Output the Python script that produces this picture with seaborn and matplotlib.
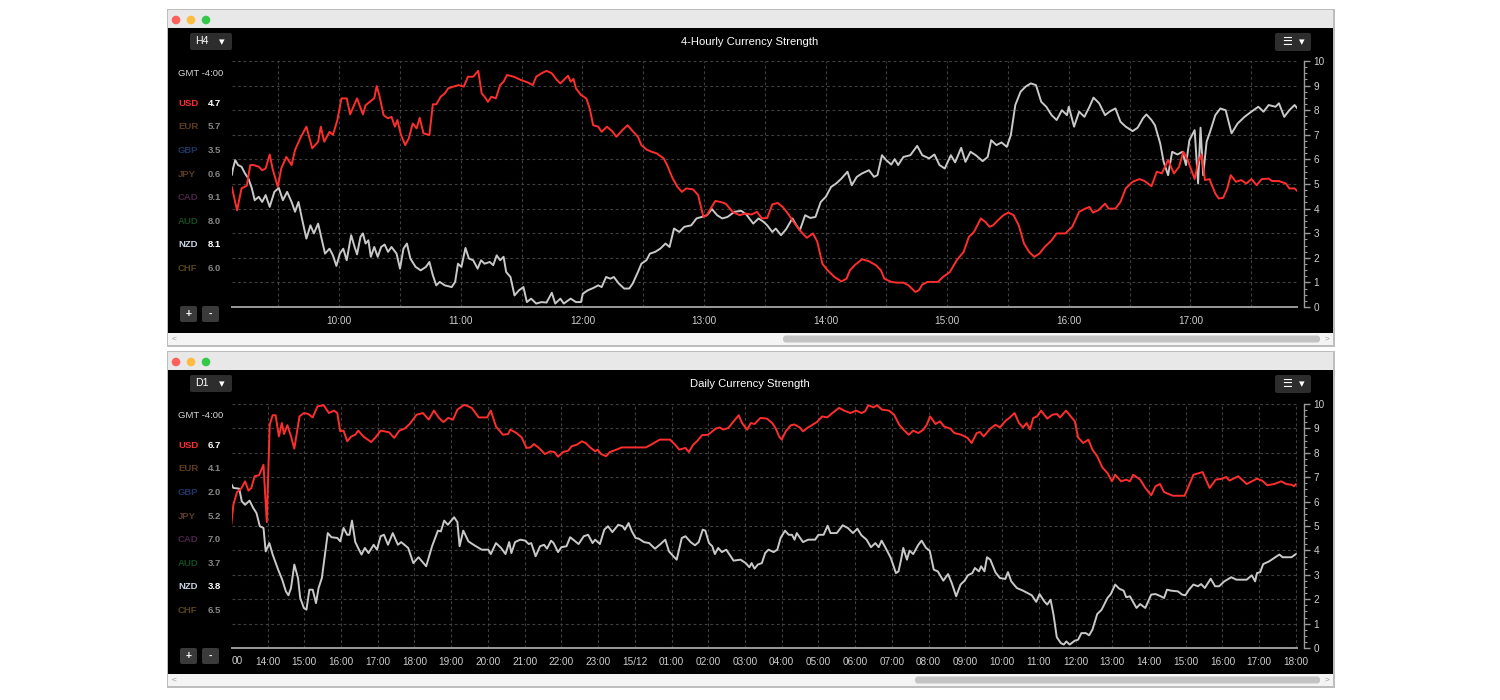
import matplotlib
matplotlib.use("Agg")
import matplotlib.pyplot as plt
import seaborn as sns
import numpy as np
import pandas as pd
from matplotlib.patches import Rectangle, FancyBboxPatch, Circle

# ---------------- data ----------------
CURRENCIES = ["USD", "EUR", "GBP", "JPY", "CAD", "AUD", "NZD", "CHF"]
TOP_STRENGTH = [4.7, 5.7, 3.5, 0.6, 9.1, 8.0, 8.1, 6.0]
BOT_STRENGTH = [6.7, 4.1, 2.0, 5.2, 7.0, 3.7, 3.8, 6.5]

# 4-hourly panel: (minutes after 09:00, strength)
TOP_USD = [(7.0,4.88),(9.6,3.93),(11.8,4.82),(14.4,4.93),(16.1,5.77),(17.8,5.77),(20.3,5.70),(22.0,5.56),(23.7,5.63),
 (25.7,6.20),(27.1,5.63),(29.7,4.88),(31.4,5.63),(33.9,6.10),(36.5,5.77),(38.2,6.38),(40.7,6.85),(43.8,7.33),(46.7,6.45),
 (49.6,6.72),(50.9,7.33),(52.6,6.72),(55.2,7.12),(56.9,7.00),(59.1,7.60),(61.1,8.48),(63.7,8.48),(65.4,7.83),(68.8,8.48),
 (71.7,7.83),(73.0,8.20),(76.1,8.41),(77.3,8.48),(78.5,8.98),(79.8,8.60),(81.9,7.80),(84.1,7.67),(85.8,7.73),(87.5,7.33),
 (88.7,7.60),(90.5,6.99),(92.6,6.58),(94.3,6.85),(96.3,7.46),(98.2,7.26),(99.7,7.69),(101.6,7.06),(104.5,6.99),(106.2,8.24),
 (107.9,8.24),(110.1,8.55),(112.1,8.68),(113.8,8.89),(116.4,8.96),(118.9,9.02),(121.5,8.96),(123.5,9.36),(126.1,9.36),
 (128.6,9.60),(130.3,8.68),(131.7,8.55),(133.4,8.34),(135.1,8.55),(137.3,8.48),(139.4,9.02),(141.1,9.16),(142.8,9.43),
 (146.2,9.36),(149.6,9.23),(153.0,9.13),(155.5,9.02),(157.2,9.36),(159.8,9.50),(162.3,9.60),(164.9,9.50),(167.4,9.23),
 (169.1,9.09),(170.8,9.23),(172.9,9.40),(174.2,9.16),(175.6,9.27),(176.8,8.89),(179.3,8.62),(181.9,8.48),(183.6,8.07),
 (185.3,7.39),(187.8,7.33),(189.5,7.12),(192.1,7.33),(194.6,7.15),(196.8,6.92),(199.7,7.19),(202.3,7.39),(204.8,7.15),
 (207.4,6.92),(209.1,6.58),(211.6,6.40),(214.2,6.31),(216.7,6.24),(220.1,6.04),(221.8,5.77),(224.4,5.25),(226.9,4.88),
 (229.1,4.68),(231.2,4.82),(234.6,4.78),(237.1,4.55),(239.7,3.66),(241.4,3.73),(243.1,3.98),(245.6,4.31),(248.2,4.27),
 (250.7,4.20),(254.1,3.87),(257.6,3.73),(260.1,3.80),(263.5,3.76),(266.1,3.87),(268.6,3.60),(271.2,3.62),(273.7,4.17),
 (276.3,4.23),(278.8,4.07),(281.4,3.80),(283.9,3.49),(287.3,3.12),(290.7,2.81),(293.8,2.99),(295.9,2.65),(298.4,1.76),
 (301.0,1.49),(304.4,1.22),(307.8,1.04),(310.3,1.15),(312.0,1.49),(314.6,1.72),(318.0,1.94),(321.4,1.86),(324.8,1.70),
 (327.3,1.49),(329.0,1.15),(332.4,1.02),(335.0,0.99),(338.4,0.99),(340.9,0.88),(344.3,0.61),(346.0,0.68),(347.7,0.91),
 (350.3,1.02),(355.4,1.02),(357.9,1.22),(361.3,1.42),(364.7,1.90),(368.1,2.24),(370.7,2.85),(373.2,3.05),(376.6,3.60),
 (378.8,3.46),(380.9,3.26),(382.6,3.32),(385.1,3.53),(387.7,3.73),(390.2,3.84),(392.8,3.73),(395.3,3.32),(397.9,2.58),
 (400.4,2.24),(403.0,2.04),(405.5,2.17),(408.1,2.44),(411.5,2.71),(414.0,2.99),(418.3,2.99),(421.7,3.26),(425.1,3.87),
 (427.7,3.98),(430.2,4.07),(431.9,3.84),(434.5,3.93),(437.9,4.20),(439.6,4.00),(443.0,4.00),(445.5,4.27),(448.1,4.82),
 (451.5,5.09),(454.9,5.20),(457.4,5.12),(460.8,4.91),(463.4,5.50),(465.9,5.43),(469.0,5.97),(471.9,5.43),(474.4,5.70),
 (476.5,6.31),(478.7,5.97),(482.1,5.20),(483.8,5.90),(485.5,6.20),(487.2,5.16),(489.4,5.20),(492.3,4.61),(494.0,4.41),
 (496.2,4.44),(498.2,4.82),(499.9,5.36),(502.5,5.09),(505.0,5.16),(507.6,5.02),(510.1,5.20),(512.7,4.95),(515.2,5.20),
 (518.6,5.22),(520.3,5.12),(523.7,5.12),(527.1,5.02),(528.8,4.82),(531.4,4.82),(532.8,4.71)]

TOP_NZD = [(7.0,5.36),(7.6,5.63),(8.7,5.97),(10.1,5.77),(11.8,5.70),(13.5,5.43),(15.2,5.22),(16.9,4.82),(18.3,4.34),
 (20.3,4.48),(22.0,4.27),(23.7,4.55),(25.7,4.07),(28.0,4.68),(30.2,4.84),(32.2,4.34),(34.3,4.68),(36.5,4.27),(38.2,3.87),
 (39.9,4.27),(41.6,3.60),(43.8,2.78),(45.8,3.32),(47.5,2.99),(49.6,3.39),(51.3,2.78),(53.0,2.17),(55.2,2.37),(56.9,2.10),
 (58.6,1.67),(60.3,2.17),(62.0,2.37),(63.7,1.90),(65.9,2.92),(67.6,2.44),(68.8,2.14),(70.5,2.85),(71.7,2.99),(73.0,2.58),
 (74.4,2.71),(75.6,2.04),(77.3,2.44),(79.0,2.04),(80.7,2.44),(82.4,2.54),(84.1,2.24),(85.8,2.44),(88.3,2.17),(90.0,1.56),
 (91.7,2.37),(93.4,2.58),(95.1,1.97),(97.7,1.63),(100.2,1.49),(102.8,1.63),(104.5,1.83),(106.2,1.29),(107.9,0.88),
 (109.6,1.02),(112.1,0.88),(115.5,0.81),(117.2,1.02),(118.6,1.76),(120.3,1.63),(122.3,2.40),(124.0,1.97),(126.1,1.90),
 (128.3,1.56),(130.0,1.90),(131.7,1.76),(134.3,1.83),(136.0,1.70),(137.7,2.10),(139.4,1.90),(141.1,2.04),(142.4,1.42),
 (144.5,1.22),(146.5,0.47),(148.7,0.68),(150.9,0.81),(152.6,0.20),(154.7,0.34),(157.2,0.14),(159.8,0.20),(162.3,0.18),
 (164.9,0.58),(166.6,0.14),(169.1,0.34),(170.8,0.14),(174.2,0.34),(176.8,0.20),(179.3,0.20),(180.2,0.54),(182.7,0.68),
 (185.3,0.77),(187.8,0.88),(189.5,0.81),(191.7,1.22),(193.8,1.15),(195.5,1.22),(198.0,0.95),(200.6,0.75),(203.1,0.75),
 (204.8,0.95),(207.4,1.42),(209.1,1.76),(211.6,1.90),(213.3,2.17),(215.9,2.24),(218.4,2.37),(221.0,2.58),(223.0,2.44),
 (225.2,3.19),(227.8,3.05),(230.3,3.26),(233.7,3.32),(236.3,3.60),(238.8,3.66),(241.4,3.73),(243.9,3.98),(246.5,3.73),
 (249.0,3.60),(251.6,3.66),(255.0,3.87),(258.4,3.91),(260.9,3.76),(264.3,3.39),(266.9,3.60),(269.4,3.46),(271.2,3.32),
 (273.7,3.05),(275.4,3.19),(278.0,2.92),(280.5,3.16),(283.6,3.60),(285.6,3.32),(287.3,3.12),(289.9,3.73),(292.4,3.62),
 (295.0,3.66),(297.6,4.27),(300.1,4.48),(302.7,4.88),(305.2,5.02),(307.8,5.22),(310.8,5.50),(312.9,4.95),(315.4,5.29),
 (318.0,5.43),(321.4,5.56),(323.9,5.29),(325.6,5.36),(327.8,6.17),(329.9,5.97),(332.4,5.79),(334.1,6.01),(335.8,5.77),
 (338.4,6.10),(341.8,6.17),(345.2,6.55),(347.7,6.17),(351.1,6.04),(353.7,6.20),(356.2,5.77),(358.8,5.63),(361.8,6.17),
 (363.9,5.88),(366.9,6.47),(369.0,5.90),(371.5,6.31),(374.1,6.17),(377.5,5.93),(380.0,6.10),(381.7,6.78),(384.3,6.58),
 (386.8,6.69),(389.4,6.51),(391.4,6.99),(393.6,8.21),(396.2,8.75),(398.7,8.96),(401.3,9.09),(403.8,9.02),(406.4,8.34),
 (408.9,8.14),(411.5,7.80),(414.0,7.60),(416.6,8.00),(419.1,7.80),(420.0,8.14),(422.6,7.33),(425.1,7.94),(427.7,7.73),
 (430.2,8.14),(432.2,8.51),(435.0,8.28),(437.9,7.80),(440.4,7.96),(443.0,8.07),(445.5,7.53),(448.1,7.33),(451.5,7.15),
 (454.0,7.29),(456.6,7.67),(458.3,7.83),(460.8,7.60),(462.5,7.39),(465.1,6.65),(466.8,5.90),(469.0,5.36),(471.0,6.31),
 (473.6,6.20),(476.1,6.31),(477.8,5.77),(479.5,6.78),(482.1,7.19),(483.8,5.02),(485.0,7.29),(486.3,5.36),(488.0,6.72),
 (489.7,7.12),(492.3,7.80),(494.8,8.07),(497.4,8.00),(500.3,7.06),(503.3,7.46),(506.7,7.73),(510.1,7.94),(513.5,8.14),
 (516.1,7.94),(518.6,8.21),(522.0,8.14),(523.7,8.28),(526.3,7.73),(528.8,8.00),(531.4,8.21),(532.8,8.07)]

# daily panel: (hours after 13:00 on 14/12, strength)
BOT_USD = [(0.015,5.08),(0.07,5.87),(0.17,6.39),(0.28,6.53),(0.39,6.83),(0.48,6.45),(0.56,6.56),(0.65,7.04),(0.77,7.08),
 (0.89,7.51),(0.98,5.16),(1.06,9.15),(1.14,9.54),(1.22,9.54),(1.31,8.67),(1.39,9.22),(1.45,8.77),(1.54,9.13),(1.64,8.67),
 (1.73,8.17),(1.87,9.49),(1.99,9.63),(2.11,9.59),(2.23,9.45),(2.36,9.90),(2.53,9.95),(2.67,9.63),(2.81,9.73),(2.90,9.63),
 (2.98,8.88),(3.07,8.91),(3.17,8.47),(3.28,8.67),(3.39,8.74),(3.47,8.91),(3.61,8.67),(3.82,8.44),(3.94,8.63),(4.08,8.91),
 (4.31,8.84),(4.45,8.61),(4.59,8.91),(4.73,8.99),(4.87,9.18),(5.06,9.56),(5.23,9.63),(5.39,9.36),(5.53,9.73),(5.67,9.43),
 (5.79,9.26),(5.92,9.43),(6.05,9.36),(6.17,9.77),(6.36,9.97),(6.56,9.84),(6.75,9.45),(6.98,9.45),(7.08,9.73),(7.22,9.08),
 (7.41,8.74),(7.55,8.77),(7.61,8.95),(7.78,8.81),(7.92,8.63),(8.05,8.20),(8.16,8.22),(8.25,8.36),(8.39,8.20),(8.55,7.95),
 (8.70,8.06),(8.81,8.03),(8.91,7.84),(9.05,8.03),(9.19,8.09),(9.28,8.27),(9.42,8.33),(9.56,8.47),(9.66,8.40),(9.80,8.20),
 (9.92,8.06),(9.99,8.13),(10.08,7.95),(10.22,7.86),(10.32,8.03),(10.50,8.13),(10.64,8.22),(10.88,8.22),(11.30,8.22),
 (11.44,8.33),(11.68,8.54),(11.96,8.54),(12.10,8.33),(12.21,8.13),(12.38,8.20),(12.47,8.03),(12.59,8.33),(12.71,8.50),
 (12.83,8.72),(12.99,8.74),(13.08,8.84),(13.20,8.99),(13.31,9.04),(13.41,8.95),(13.55,9.02),(13.69,9.29),(13.83,9.54),
 (13.92,9.22),(14.06,8.95),(14.16,9.22),(14.26,9.18),(14.42,9.43),(14.60,9.40),(14.74,9.22),(14.83,9.02),(14.93,8.67),
 (15.00,8.54),(15.11,8.88),(15.25,9.13),(15.35,9.16),(15.49,9.04),(15.58,8.88),(15.72,9.04),(15.96,9.26),(16.10,9.49),
 (16.24,9.45),(16.38,9.63),(16.56,9.84),(16.70,9.73),(16.87,9.63),(17.03,9.73),(17.17,9.63),(17.27,9.70),(17.36,9.95),
 (17.50,9.86),(17.59,9.95),(17.73,9.77),(17.92,9.73),(18.06,9.56),(18.20,9.15),(18.34,8.91),(18.46,8.74),(18.58,8.91),
 (18.72,8.81),(18.86,8.95),(18.95,9.15),(19.04,9.49),(19.19,9.18),(19.31,9.29),(19.42,9.08),(19.59,8.99),(19.70,8.81),
 (19.89,8.74),(20.06,8.61),(20.17,8.40),(20.31,8.81),(20.40,8.85),(20.50,8.67),(20.68,8.99),(20.82,9.15),(20.94,9.04),
 (21.10,9.32),(21.20,9.43),(21.34,9.63),(21.46,9.22),(21.57,9.04),(21.67,9.22),(21.76,8.95),(21.85,9.43),(21.95,9.49),
 (22.06,9.73),(22.23,9.40),(22.37,9.56),(22.49,9.59),(22.58,9.45),(22.74,9.73),(22.87,9.49),(22.98,9.29),(23.07,8.63),
 (23.21,8.40),(23.35,8.54),(23.46,8.13),(23.59,7.86),(23.73,7.40),(23.87,7.17),(23.99,6.83),(24.08,7.10),(24.24,6.83),
 (24.38,6.90),(24.48,6.83),(24.57,7.10),(24.76,6.90),(24.90,6.56),(25.06,6.26),(25.18,6.63),(25.30,6.72),(25.41,6.39),
 (25.65,6.24),(25.97,6.24),(26.21,7.10),(26.46,7.21),(26.65,6.56),(26.82,6.90),(27.00,6.94),(27.10,7.01),(27.19,6.86),
 (27.43,7.04),(27.66,6.72),(27.80,6.83),(27.94,6.94),(28.08,6.86),(28.22,6.67),(28.41,6.72),(28.60,6.83),(28.74,6.72),
 (28.88,6.69),(28.95,6.63),(29.0,6.72)]

BOT_NZD = [(0.015,6.72),(0.07,6.56),(0.23,6.53),(0.30,6.01),(0.39,5.87),(0.51,6.04),(0.61,5.74),(0.70,5.53),(0.79,4.99),
 (0.89,4.92),(0.95,3.96),(1.05,4.30),(1.14,3.83),(1.29,3.21),(1.40,2.80),(1.50,2.32),(1.57,2.16),(1.64,2.46),(1.73,3.42),
 (1.83,2.87),(1.89,2.05),(1.99,1.64),(2.06,1.57),(2.14,2.39),(2.23,2.39),(2.32,1.84),(2.39,2.46),(2.48,2.87),(2.55,3.69),
 (2.64,4.71),(2.74,4.54),(2.90,4.51),(2.98,4.37),(3.07,4.92),(3.17,4.64),(3.23,4.64),(3.30,5.22),(3.39,4.34),(3.49,4.03),
 (3.56,3.83),(3.65,4.10),(3.75,3.89),(3.89,4.23),(3.98,4.03),(4.08,4.58),(4.17,4.64),(4.28,4.23),(4.41,4.71),(4.55,4.23),
 (4.64,4.34),(4.83,4.10),(4.97,3.48),(5.11,3.72),(5.32,3.35),(5.48,4.17),(5.64,4.81),(5.72,4.78),(5.81,5.22),(5.91,5.05),
 (6.08,5.36),(6.17,5.16),(6.23,4.17),(6.33,4.81),(6.47,4.37),(6.61,4.23),(6.83,4.03),(7.01,4.03),(7.08,3.85),(7.22,4.30),
 (7.36,4.10),(7.48,3.85),(7.58,4.34),(7.64,3.89),(7.74,4.34),(7.88,4.44),(8.02,4.40),(8.11,4.26),(8.18,4.30),(8.30,3.76),
 (8.42,4.17),(8.53,4.23),(8.61,4.07),(8.72,4.40),(8.79,4.30),(8.91,3.93),(9.00,4.13),(9.14,4.17),(9.24,4.54),(9.38,4.37),
 (9.47,4.26),(9.61,4.58),(9.73,4.64),(9.85,4.30),(9.92,4.44),(10.05,4.26),(10.17,4.85),(10.27,4.99),(10.39,4.75),
 (10.55,5.05),(10.67,4.99),(10.73,4.85),(10.83,5.12),(10.92,4.78),(11.02,4.51),(11.11,4.48),(11.25,4.34),(11.39,4.30),
 (11.55,4.07),(11.70,4.26),(11.83,4.44),(11.93,3.96),(12.05,3.76),(12.14,3.62),(12.28,4.51),(12.38,4.58),(12.52,4.34),
 (12.64,4.21),(12.74,4.34),(12.85,4.85),(12.92,4.81),(13.02,4.30),(13.11,4.17),(13.18,3.85),(13.27,4.10),(13.37,3.93),
 (13.49,4.03),(13.69,3.58),(13.88,3.62),(14.02,3.48),(14.12,3.31),(14.18,3.48),(14.26,3.25),(14.35,3.42),(14.46,3.48),
 (14.55,3.89),(14.64,4.03),(14.78,3.93),(14.88,4.03),(14.97,4.51),(15.09,4.81),(15.19,4.64),(15.28,4.64),(15.35,4.44),
 (15.41,4.71),(15.58,4.34),(15.72,4.44),(15.91,4.44),(16.00,4.64),(16.14,4.64),(16.25,5.01),(16.33,4.71),(16.50,4.71),
 (16.66,5.03),(16.80,4.92),(16.94,4.71),(17.06,4.89),(17.17,4.62),(17.31,4.44),(17.43,4.13),(17.55,4.30),(17.64,4.13),
 (17.72,4.40),(17.83,4.10),(17.97,3.69),(18.11,3.07),(18.18,3.14),(18.25,3.62),(18.31,4.10),(18.41,3.62),(18.48,3.99),
 (18.58,3.85),(18.72,4.23),(18.81,4.40),(18.93,4.10),(19.03,3.99),(19.14,3.21),(19.25,3.14),(19.40,2.76),(19.53,3.03),
 (19.63,2.66),(19.75,2.12),(19.87,2.60),(19.98,2.76),(20.07,2.98),(20.19,3.07),(20.26,3.28),(20.37,3.14),(20.43,3.35),
 (20.52,3.14),(20.59,3.72),(20.68,3.62),(20.82,3.10),(20.94,2.87),(21.09,2.83),(21.16,3.11),(21.25,2.73),(21.40,2.46),
 (21.57,2.35),(21.81,2.16),(21.93,1.89),(22.02,2.21),(22.15,1.91),(22.23,1.78),(22.32,1.98),(22.40,1.37),(22.49,0.44),
 (22.60,0.20),(22.68,0.14),(22.75,0.27),(22.84,0.14),(22.98,0.30),(23.07,0.34),(23.16,0.61),(23.28,0.61),(23.37,0.52),
 (23.46,0.75),(23.59,1.39),(23.71,1.57),(23.87,2.05),(23.96,2.21),(24.08,2.60),(24.19,2.43),(24.31,2.35),(24.38,2.08),
 (24.48,2.12),(24.66,1.64),(24.76,1.80),(24.90,1.64),(25.06,2.19),(25.18,2.21),(25.32,2.12),(25.41,2.05),(25.49,2.39),
 (25.60,2.35),(25.79,2.32),(25.90,2.19),(25.99,2.16),(26.09,2.39),(26.21,2.60),(26.33,2.53),(26.42,2.62),(26.52,2.46),
 (26.68,2.84),(26.80,2.53),(26.91,2.53),(27.05,2.73),(27.24,2.90),(27.38,2.80),(27.66,2.80),(27.80,2.98),(27.89,2.73),
 (27.94,3.07),(28.03,3.11),(28.11,3.44),(28.27,3.55),(28.41,3.69),(28.55,3.83),(28.64,3.72),(28.88,3.72),(29.0,3.85)]

TOP_HOUR_LABELS = ["10:00", "11:00", "12:00", "13:00", "14:00", "15:00", "16:00", "17:00"]
BOT_HOUR_LABELS = ["14:00", "15:00", "16:00", "17:00", "18:00", "19:00", "20:00", "21:00", "22:00", "23:00",
                   "15/12", "01:00", "02:00", "03:00", "04:00", "05:00", "06:00", "07:00", "08:00", "09:00",
                   "10:00", "11:00", "12:00", "13:00", "14:00", "15:00", "16:00", "17:00", "18:00"]

# ---------------- style ----------------
sns.set_theme(style="dark")
plt.rcParams['font.family'] = ['Liberation Sans', 'DejaVu Sans']

RED = "#ff2e2e"
WHITE_LINE = "#c9c9c9"
NAME_COLORS = ["#ff2e2e", "#5e3d1f", "#1f3665", "#5c3c22", "#4c2449", "#15491f", "#c9d2e3", "#574619"]
ACTIVE = {"USD", "NZD"}
AXIS_COL = "#9a9a9a"
TXT_COL = "#cfcfcf"
GRID_COL = "#404040"

fig = plt.figure(figsize=(15, 7), dpi=100, facecolor="white")
bg = fig.add_axes([0, 0, 1, 1])
bg.set_xlim(0, 1500)
bg.set_ylim(700, 0)
bg.axis("off")


def draw_window(y0, y1, tf, title, thumb_x0, strengths):
    bg.add_patch(Rectangle((166.5, y0 - 1.5), 1168, y1 - y0 + 3, fc="#bdbdbd", ec="none"))
    bg.add_patch(Rectangle((168, y0), 1165, 18, fc="#e8e8e8", ec="none"))
    bg.add_patch(Rectangle((168, y0 + 18), 1165, y1 - y0 - 30, fc="black", ec="none"))
    bg.add_patch(Rectangle((168, y1 - 12), 1165, 12, fc="#f4f4f4", ec="none"))
    bg.add_patch(FancyBboxPatch((thumb_x0, y1 - 9.5), 1320 - thumb_x0, 7,
                                boxstyle="round,pad=0,rounding_size=3", fc="#c3c3c3", ec="none"))
    bg.text(174, y1 - 6, "<", color="#9a9a9a", fontsize=6, ha="center", va="center")
    bg.text(1327, y1 - 6, ">", color="#9a9a9a", fontsize=6, ha="center", va="center")
    for i, c in enumerate(["#fc605c", "#fdbc40", "#34c84a"]):
        bg.add_patch(Circle((176 + 15 * i, y0 + 10), 4.3, fc=c, ec="none"))
    # timeframe selector
    bg.add_patch(FancyBboxPatch((190, y0 + 23), 42, 17, boxstyle="round,pad=0,rounding_size=2",
                                fc="#2d2d2d", ec="none"))
    bg.text(202, y0 + 31.5, tf, color="white", fontsize=7.6, ha="center", va="center")
    bg.text(222, y0 + 32, "\u25BE", color="white", fontsize=8, ha="center", va="center",
            family=["DejaVu Sans"])
    # menu button
    bg.add_patch(FancyBboxPatch((1275, y0 + 23), 36, 18, boxstyle="round,pad=0,rounding_size=2",
                                fc="#2d2d2d", ec="none"))
    bg.text(1287, y0 + 32, "\u2630", color="white", fontsize=8, ha="center", va="center",
            family=["DejaVu Sans"])
    bg.text(1302, y0 + 32, "\u25BE", color="white", fontsize=8, ha="center", va="center",
            family=["DejaVu Sans"])
    # title
    bg.text(750, y0 + 32, title, color="white", fontsize=8.1, ha="center", va="center")
    # legend
    bg.text(178, y0 + 63.5, "GMT -4:00", color="#d6d6d6", fontsize=6.8, ha="left", va="center")
    for i, (cur, val) in enumerate(zip(CURRENCIES, strengths)):
        yy = y0 + 93.3 + 23.6 * i
        bg.text(178, yy, cur, color=NAME_COLORS[i], fontsize=6.8, fontweight="bold", ha="left", va="center")
        bg.text(208, yy, f"{val:.1f}", color="white" if cur in ACTIVE else "#868686",
                fontsize=6.8, fontweight="bold", ha="left", va="center")
    # zoom buttons
    for x0, s in ((180, "+"), (202, "-")):
        bg.add_patch(FancyBboxPatch((x0, y0 + 296), 17, 16, boxstyle="round,pad=0,rounding_size=2",
                                    fc="#3a3a3a", ec="none"))
        bg.text(x0 + 8.5, y0 + 304, s, color="white", fontsize=7.5, fontweight="bold",
                ha="center", va="center")


draw_window(10, 345, "H4", "4-Hourly Currency Strength", 783, TOP_STRENGTH)
draw_window(352, 686, "D1", "Daily Currency Strength", 915, BOT_STRENGTH)


def style_axes(ax):
    ax.set_facecolor("none")
    ax.set_ylim(0, 10)
    for s in ("left", "top"):
        ax.spines[s].set_visible(False)
    ax.spines["bottom"].set_color(AXIS_COL)
    ax.spines["bottom"].set_linewidth(1.4)
    ax.spines["right"].set_color(AXIS_COL)
    ax.spines["right"].set_linewidth(1.0)
    ax.spines["right"].set_position(("outward", 5))
    ax.yaxis.tick_right()
    ax.set_yticks(range(0, 11))
    ax.set_yticklabels([str(v) for v in range(0, 11)])
    ax.set_yticks(np.arange(0, 10.01, 0.25), minor=True)
    ax.tick_params(axis="y", which="major", direction="out", length=4, width=1, color=AXIS_COL,
                   labelcolor=TXT_COL, labelsize=7.2, pad=3, left=False, right=True)
    ax.tick_params(axis="y", which="minor", direction="out", length=2, width=0.8, color=AXIS_COL,
                   left=False, right=True)
    ax.tick_params(axis="x", which="both", direction="out", length=3, width=1, color=AXIS_COL,
                   labelcolor=TXT_COL, labelsize=7.2, pad=3.5)
    ax.grid(True, which="major", color=GRID_COL, linestyle=(0, (2.5, 2.5)), linewidth=0.8)
    ax.set_xlabel("")
    ax.set_ylabel("")


def plot_series(ax, usd, nzd):
    d_usd = pd.DataFrame(usd, columns=["t", "v"])
    d_nzd = pd.DataFrame(nzd, columns=["t", "v"])
    sns.lineplot(data=d_nzd, x="t", y="v", ax=ax, color=WHITE_LINE, linewidth=1.4,
                 estimator=None, sort=False, zorder=3)
    sns.lineplot(data=d_usd, x="t", y="v", ax=ax, color=RED, linewidth=1.4,
                 estimator=None, sort=False, zorder=4)


# ---- top panel (4-hourly) ----
ax1 = fig.add_axes([232 / 1500, 1 - 307 / 700, 1065 / 1500, 246 / 700])
plot_series(ax1, TOP_USD, TOP_NZD)
style_axes(ax1)
ax1.set_xlim(7.1, 532.6)
half_hours = np.arange(30, 531, 30)
ax1.set_xticks(half_hours)
lab_iter = iter(TOP_HOUR_LABELS)
ax1.set_xticklabels([next(lab_iter) if m % 60 == 0 else "" for m in half_hours])
ax1.set_xticks(np.arange(15, 532, 15), minor=True)

# ---- bottom panel (daily) ----
ax2 = fig.add_axes([232 / 1500, 1 - 648 / 700, 1065 / 1500, 244 / 700])
plot_series(ax2, BOT_USD, BOT_NZD)
style_axes(ax2)
ax2.set_xlim(0.033, 29.03)
ax2.set_xticks(np.arange(1, 30))
ax2.set_xticklabels(BOT_HOUR_LABELS)
ax2.set_xticks(np.arange(0.5, 29.1, 0.5), minor=True)
bg.text(232, 660.5, "00", color=TXT_COL, fontsize=7.2, ha="left", va="center")

fig.savefig("out.png", dpi=100, facecolor="white")
